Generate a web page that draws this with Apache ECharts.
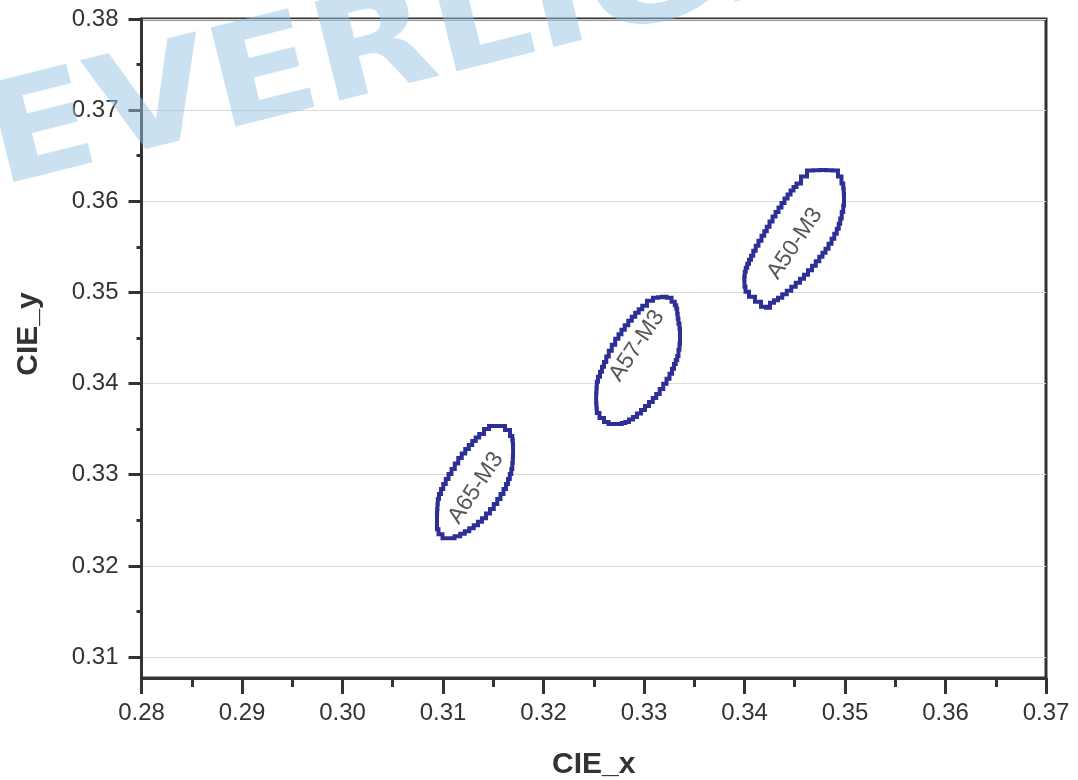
<!DOCTYPE html>
<html><head><meta charset="utf-8">
<script src="https://cdn.jsdelivr.net/npm/echarts@6/dist/echarts.min.js"></script>
<style>html,body{margin:0;padding:0;background:#fff}#c{width:1078px;height:780px}</style>
</head><body><div id="c"></div>
<script>
// ---- data (CIE x, CIE y) ----
const ellipseNames = ['A65-M3', 'A57-M3', 'A50-M3'];
const ellipseA65 = [
  [0.31478,0.33535],[0.31587,0.33535],[0.31647,0.33491],[0.31687,0.33425],[0.31697,0.33337],
  [0.31697,0.33195],[0.31687,0.33063],[0.31657,0.32953],[0.31617,0.32843],[0.31557,0.32733],
  [0.31488,0.32623],[0.31408,0.32524],[0.31328,0.32447],[0.31239,0.32381],[0.31149,0.32326],
  [0.31080,0.32304],[0.31020,0.32304],[0.30970,0.32348],[0.30940,0.32403],[0.30940,0.32568],
  [0.30950,0.32733],[0.30990,0.32843],[0.31040,0.32953],[0.31100,0.33063],[0.31169,0.33184],
  [0.31239,0.33282],[0.31308,0.33370],[0.31378,0.33447],[0.31438,0.33502]
];
const ellipseA57 = [
  [0.33119,0.34942],[0.33199,0.34953],[0.33249,0.34942],[0.33299,0.34898],[0.33328,0.34821],
  [0.33338,0.34711],[0.33358,0.34601],[0.33358,0.34436],[0.33338,0.34304],[0.33308,0.34216],
  [0.33269,0.34107],[0.33209,0.33997],[0.33139,0.33887],[0.33070,0.33799],[0.32990,0.33711],
  [0.32910,0.33634],[0.32831,0.33579],[0.32761,0.33557],[0.32672,0.33557],[0.32622,0.33579],
  [0.32582,0.33623],[0.32532,0.33678],[0.32522,0.33832],[0.32532,0.34019],[0.32572,0.34129],
  [0.32612,0.34238],[0.32662,0.34359],[0.32731,0.34491],[0.32791,0.34590],[0.32861,0.34689],
  [0.32930,0.34777],[0.33000,0.34854],[0.33060,0.34909]
];
const ellipseA50 = [
  [0.34652,0.36337],[0.34781,0.36343],[0.34910,0.36337],[0.34950,0.36271],[0.34980,0.36195],
  [0.34990,0.36085],[0.34990,0.35953],[0.34960,0.35810],[0.34930,0.35700],[0.34881,0.35590],
  [0.34821,0.35480],[0.34761,0.35392],[0.34692,0.35293],[0.34612,0.35195],[0.34532,0.35107],
  [0.34443,0.35019],[0.34353,0.34942],[0.34274,0.34887],[0.34234,0.34832],[0.34194,0.34843],
  [0.34134,0.34898],[0.34075,0.34953],[0.34015,0.35008],[0.33995,0.35118],[0.34005,0.35228],
  [0.34035,0.35315],[0.34075,0.35403],[0.34124,0.35513],[0.34184,0.35623],[0.34234,0.35722],
  [0.34294,0.35832],[0.34353,0.35931],[0.34413,0.36030],[0.34473,0.36118],[0.34532,0.36195],
  [0.34592,0.36271]
];
const labelX = [0.31328, 0.32930, 0.34502];
const labelY = [0.32854, 0.34414, 0.35535];
const xMin = 0.28, xMax = 0.37, xStep = 0.01;
const yMin = 0.3077, yMax = 0.38;
const yMajorTicks = [0.31, 0.32, 0.33, 0.34, 0.35, 0.36, 0.37, 0.38];
const yMinorTicks = [0.315, 0.325, 0.335, 0.345, 0.355, 0.365, 0.375];
const watermarkText = 'EVERLIGHT';

// ---- styles ----
const AXIS = '#333333';
const LINE = '#2d2f96';
const FONT = '"Liberation Sans", Arial, Helvetica, sans-serif';

const chart = echarts.init(document.getElementById('c'), null, {renderer: 'canvas'});

function jagged(pts) {
  const out = [];
  for (let i = 0; i < pts.length; i++) {
    const a = pts[i], b = pts[(i + 1) % pts.length];
    const n = Math.max(1, Math.ceil(Math.max(Math.abs(b[0] - a[0]), Math.abs(b[1] - a[1])) / 7));
    for (let k = 0; k < n; k++) {
      const p = [a[0] + (b[0] - a[0]) * k / n, a[1] + (b[1] - a[1]) * k / n];
      const q = [a[0] + (b[0] - a[0]) * (k + 1) / n, a[1] + (b[1] - a[1]) * (k + 1) / n];
      const m = (p[0] + q[0]) / 2;
      out.push(p, [m, p[1]], [m, q[1]]);
    }
  }
  return out;
}

function ellipseSeries(arr) {
  return {
    type: 'custom',
    data: arr,
    encode: {x: 0, y: 1},
    silent: true,
    z: 3,
    renderItem: function (params, api) {
      if (params.dataIndex !== 0) return null;
      const pts = arr.map(p => api.coord(p));
      return {
        type: 'polygon',
        shape: {points: jagged(pts)},
        style: {fill: '#ffffff', stroke: LINE, lineWidth: 4, lineJoin: 'miter'}
      };
    }
  };
}

const option = {
  animation: false,
  backgroundColor: '#ffffff',
  textStyle: {fontFamily: FONT},
  grid: {left: 141.5, right: 32, top: 19, bottom: 102, show: true, borderColor: AXIS, borderWidth: 3,
         containLabel: false, outerBoundsMode: 'none'},
  xAxis: {
    type: 'value', min: xMin, max: xMax, interval: xStep,
    name: 'CIE_x', nameLocation: 'middle', nameGap: 72,
    nameTextStyle: {fontSize: 30, fontWeight: 'bold', color: AXIS, fontFamily: FONT},
    axisLine: {show: true, lineStyle: {color: AXIS, width: 3}},
    axisTick: {show: true, length: 16, lineStyle: {color: AXIS, width: 3}},
    minorTick: {show: true, splitNumber: 2, length: 9, lineStyle: {color: AXIS, width: 3}},
    axisLabel: {fontSize: 24, color: AXIS, margin: 23, fontFamily: FONT, formatter: v => v.toFixed(2)},
    splitLine: {show: false}
  },
  yAxis: [{
    type: 'value', min: yMin, max: yMax, position: 'left',
    name: 'CIE_y', nameLocation: 'middle', nameGap: 98,
    nameTextStyle: {fontSize: 30, fontWeight: 'bold', color: AXIS, fontFamily: FONT, padding: [0, 0, 0, 29]},
    axisLine: {show: true, lineStyle: {color: AXIS, width: 3}},
    axisTick: {show: true, length: 13, customValues: yMajorTicks, lineStyle: {color: AXIS, width: 3}},
    axisLabel: {fontSize: 24, color: AXIS, margin: 23, fontFamily: FONT, customValues: yMajorTicks,
                formatter: v => v.toFixed(2)},
    splitLine: {show: true, lineStyle: {color: '#d9d9d9', width: 1}}
  }, {
    type: 'value', min: yMin, max: yMax, position: 'left',
    axisLine: {show: false},
    axisTick: {show: true, length: 5, customValues: yMinorTicks, lineStyle: {color: AXIS, width: 3}},
    axisLabel: {show: false},
    splitLine: {show: false}
  }],
  series: [
    ellipseSeries(ellipseA65),
    ellipseSeries(ellipseA57),
    ellipseSeries(ellipseA50),
    {
      type: 'scatter', z: 4, silent: true, symbolSize: 0,
      data: ellipseNames.map((n, i) => [labelX[i], labelY[i], n]),
      label: {show: true, position: 'inside', rotate: 56, formatter: p => p.data[2],
              fontSize: 23, color: '#2a2a2a', fontFamily: FONT}
    }
  ],
  graphic: [{
    type: 'text', x: 8, y: 218, rotation: 0.245, scaleX: 1.12, z: 100, silent: true,
    style: {text: watermarkText, fill: 'rgba(150,195,230,0.5)',
            font: 'bold 140px "DejaVu Sans", sans-serif', align: 'left', verticalAlign: 'bottom'}
  }]
};
chart.setOption(option);
</script></body></html>
